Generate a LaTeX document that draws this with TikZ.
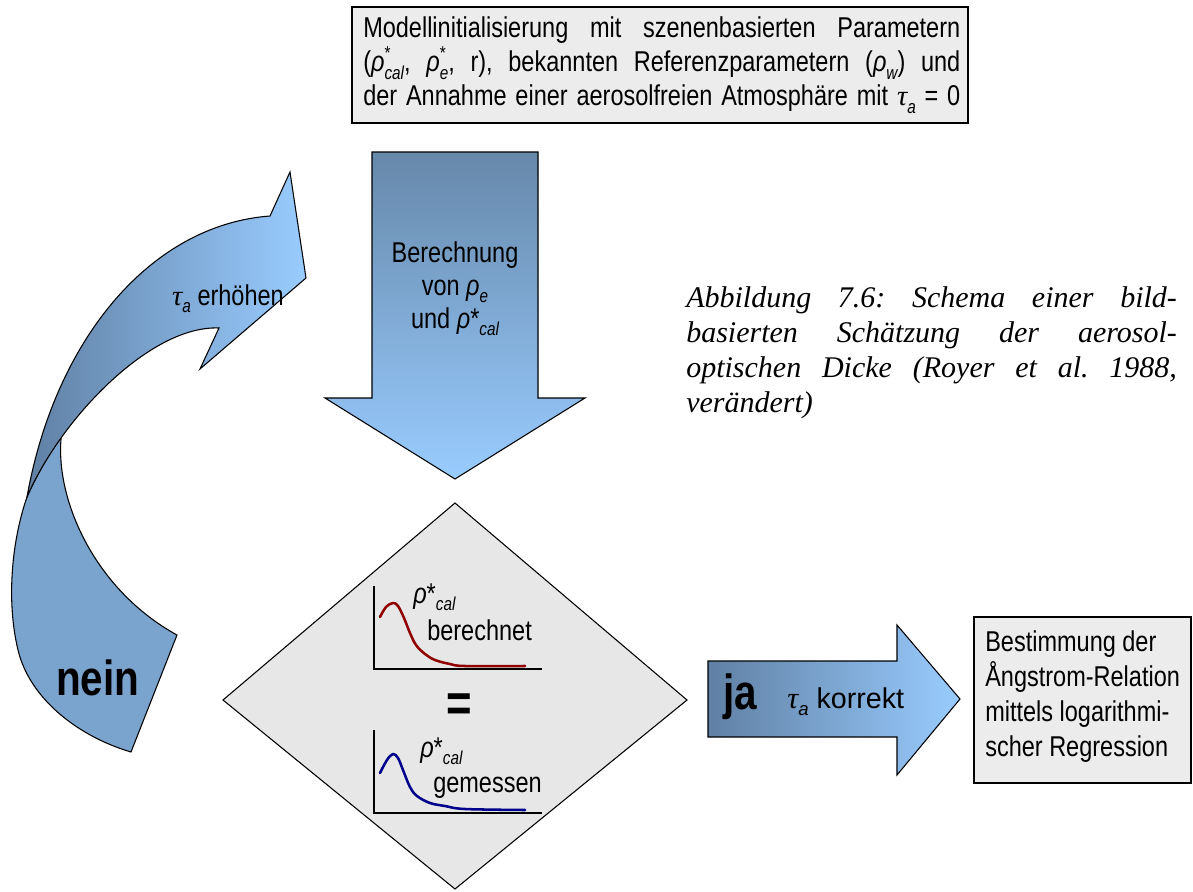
\documentclass[tikz,border=0pt]{standalone}
\usepackage{fontspec}
\setmainfont[FakeStretch=0.82]{Liberation Sans}
\newfontfamily\capfont{Liberation Serif}
\newfontfamily\tauf{Liberation Serif}
\newfontfamily\widesans{Liberation Sans}
\frenchspacing
\definecolor{dkblue}{RGB}{96,128,164}
\definecolor{dkbluedown}{RGB}{102,136,170}
\definecolor{ltblue}{RGB}{153,204,255}
\definecolor{midblue}{RGB}{122,164,206}
\definecolor{boxgray}{RGB}{236,236,236}
\definecolor{dmdgray}{RGB}{231,231,231}
\definecolor{redc}{RGB}{145,0,0}
\definecolor{bluec}{RGB}{0,0,140}
\newcommand\rh{{\itshape ρ}}
\newcommand\sbs[1]{\raisebox{-0.25em}{\fontsize{14pt}{14pt}\selectfont\itshape #1}}
\newcommand\sps[1]{\raisebox{0.45em}{\fontsize{14pt}{14pt}\selectfont #1}}
\newcommand\ta{{\tauf\itshape τ}\sbs{a}}
\begin{document}
\begin{tikzpicture}[x=0.75pt,y=-0.75pt,line join=miter,
  outl/.style={draw=black,line width=0.8pt},
  txt/.style={inner sep=0pt,font=\fontsize{21.5pt}{25.5pt}\selectfont},
  big/.style={inner sep=0pt,font=\bfseries\fontsize{37pt}{37pt}\selectfont},
  capt/.style={inner sep=0pt,font=\capfont\itshape\fontsize{22.5pt}{26.25pt}\selectfont},
  curve/.style={line width=1.9pt,line cap=round,line join=round}]
\useasboundingbox (0,0) rectangle (1193,892);
\fill[white] (0,0) rectangle (1193,892);

% top box
\path[outl,fill=boxgray] (352,7) rectangle (968,123);
\node[txt,anchor=base west] (init) at (363,38) {\parbox[t]{447.75pt}{%
\makebox[447.75pt][s]{Modellinitialisierung mit szenenbasierten Parametern}\par
\makebox[447.75pt][s]{(\rh\rlap{\sps{*}}\sbs{cal}, \rh\rlap{\sps{*}}\sbs{e}, r), bekannten Referenzparametern (\rh\sbs{w}) und}\par
\makebox[447.75pt][s]{der Annahme einer aerosolfreien Atmosphäre mit \ta\ = 0}}};

% down arrow
\path[outl,top color=dkbluedown,bottom color=ltblue] (372,152) -- (538,152) -- (538,398) -- (585,398) -- (455,479) -- (325,398) -- (372,398) -- cycle;
\node[txt,anchor=base] (calc) at (455,262) {\parbox[t]{150pt}{\centering\fontsize{21.5pt}{24.75pt}\selectfont Berechnung\\von \rh\sbs{e}\\und \rh*\sbs{cal}}};

% curved arrow: back part
\path[outl,fill=midblue] (61.2,436.9) .. controls (47.06,457.38) and (35.25,477.75) .. (27,497)
  .. controls (12,540) and (6,600) .. (18,650)
  .. controls (30,700) and (80,737) .. (131,752)
  -- (177,635)
  .. controls (95,590) and (55,500) .. (61.2,436.9) -- cycle;
% curved arrow: front ribbon
\path[outl,left color=dkblue,right color=ltblue] (27,497) .. controls (55,340) and (150,225) .. (270,216)
  -- (290,172) -- (306,278) -- (200,369) -- (219,328)
  .. controls (150,325) and (60,420) .. (27,497) -- cycle;
\node[txt,anchor=base] (incr) at (228,305) {\ta\ erhöhen};
\node[big,anchor=base west] (nein) at (56,695) {nein};

% diamond
\path[outl,fill=dmdgray] (455,503) -- (687,700) -- (455,889) -- (223,700) -- cycle;
\draw[line width=1pt] (374,586) -- (374,669) -- (542,669);
\draw[redc,curve] plot[smooth,tension=0.6] coordinates {(380,617) (386,607) (393,603) (398,606) (404,618) (410,633) (416,645) (425,654) (435,660) (450,664) (465,666) (525,666)};
\node[txt,anchor=base west] (rc1) at (413,603) {\rh*\sbs{cal}};
\node[txt,anchor=base west] (berech) at (427,640) {berechnet};
\node[inner sep=0pt,font=\bfseries\fontsize{40pt}{40pt}\selectfont] (eq) at (459,708) {=};
\draw[line width=1pt] (374,730) -- (374,813) -- (542,813);
\draw[bluec,curve] plot[smooth,tension=0.6] coordinates {(380,773) (387,760) (393,754) (398,758) (403,770) (410,787) (417,796) (430,803) (445,806) (465,809) (525,810)};
\node[txt,anchor=base west] (rc2) at (420,757) {\rh*\sbs{cal}};
\node[txt,anchor=base west] (gem) at (433,792) {gemessen};

% ja arrow
\path[outl,left color=dkblue,right color=ltblue] (708,661) -- (897,661) -- (897,625) -- (960,699) -- (897,775) -- (897,737) -- (708,737) -- cycle;
\node[big,anchor=base west] (ja) at (723,709) {ja};
\node[txt,anchor=base west,font=\widesans\fontsize{21.5pt}{25.5pt}\selectfont] (korr) at (787,708) {{\tauf\itshape\fontsize{23pt}{25pt}\selectfont τ}\sbs{a}\ korrekt};

% right box
\path[outl,fill=boxgray] (974,617) rectangle (1191,783);
\node[txt,anchor=base west] (res) at (985,651) {\parbox[t]{200pt}{\raggedright\fontsize{21.5pt}{26.25pt}\selectfont Bestimmung der\\Ångstrom-Relation\\mittels logarithmi-\\scher Regression}};

% caption
\node[capt,anchor=base west] (cap) at (686,307) {\parbox[t]{368pt}{%
\makebox[368pt][s]{Abbildung 7.6: Schema einer bild-}\par
\makebox[368pt][s]{basierten Schätzung der aerosol-}\par
\makebox[368pt][s]{optischen Dicke (Royer et al. 1988,}\par
verändert)}};
\end{tikzpicture}
\end{document}
